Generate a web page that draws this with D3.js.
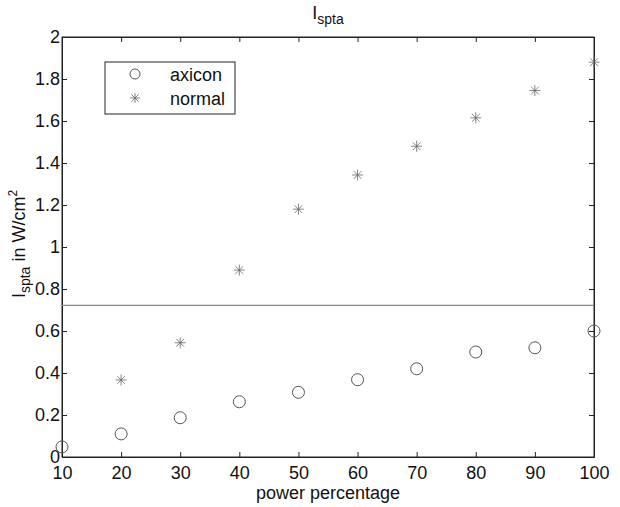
<!DOCTYPE html>
<html>
<head>
<meta charset="utf-8">
<script src="https://d3js.org/d3.v7.min.js"></script>
<style>
  body { margin: 0; background: white; }
  svg text { font-family: "Liberation Sans", Arial, sans-serif; fill: #111; }
</style>
</head>
<body>
<div id="chart"></div>
<script>
// data
var powers = [10, 20, 30, 40, 50, 60, 70, 80, 90, 100];
var axicon = [0.048, 0.11, 0.187, 0.263, 0.308, 0.368, 0.42, 0.50, 0.52, 0.60];
var normal = [null, 0.367, 0.544, 0.89, 1.18, 1.343, 1.48, 1.615, 1.745, 1.88];
var refLine = 0.722;
var xTicks = [10, 20, 30, 40, 50, 60, 70, 80, 90, 100];
var yTicks = [0, 0.2, 0.4, 0.6, 0.8, 1, 1.2, 1.4, 1.6, 1.8, 2];

var W = 620, H = 507;
var margin = { top: 37, right: 26, bottom: 50, left: 62 };
var width = W - margin.left - margin.right,
    height = H - margin.top - margin.bottom;

var x = d3.scaleLinear().domain([10, 100]).range([0, width]);
var y = d3.scaleLinear().domain([0, 2]).range([height, 0]);

var svg = d3.select("#chart").append("svg")
    .attr("width", W).attr("height", H);
var g = svg.append("g")
    .attr("transform", "translate(" + margin.left + "," + margin.top + ")");

var axisColor = "#222";
var tickLen = 5;
var fs = "18px";

// box
g.append("rect").attr("width", width).attr("height", height)
  .attr("fill", "none").attr("stroke", axisColor).attr("stroke-width", 1);

// bottom axis (ticks inward)
var xb = g.append("g").attr("transform", "translate(0," + height + ")")
  .call(d3.axisBottom(x).tickValues(xTicks).tickSizeInner(-tickLen).tickSizeOuter(0).tickPadding(9));
// top ticks
var xt = g.append("g")
  .call(d3.axisTop(x).tickValues(xTicks).tickSizeInner(-tickLen).tickSizeOuter(0).tickFormat(""));
// left axis
var yl = g.append("g")
  .call(d3.axisLeft(y).tickValues(yTicks).tickSizeInner(-tickLen).tickSizeOuter(0).tickPadding(2)
    .tickFormat(function (d) { return d3.format("")(+d.toFixed(1)); }));
// right ticks
var yr = g.append("g").attr("transform", "translate(" + width + ",0)")
  .call(d3.axisRight(y).tickValues(yTicks).tickSizeInner(-tickLen).tickSizeOuter(0).tickFormat(""));

[xb, xt, yl, yr].forEach(function (a) {
  a.select(".domain").attr("stroke", axisColor);
  a.selectAll(".tick line").attr("stroke", axisColor);
  a.selectAll("text").style("font-size", fs).attr("fill", "#111");
});
xb.selectAll("text").attr("dy", "0.71em");

// reference line
g.append("line")
  .attr("x1", 0).attr("x2", width)
  .attr("y1", y(refLine)).attr("y2", y(refLine))
  .attr("stroke", "#888").attr("stroke-width", 1.2);

// markers
var markColor = "#555";
var starColor = "#666";
function star(sel, r) {
  var p = "M" + (-r) + ",0L" + r + ",0M0," + (-r) + "L0," + r +
    "M" + (-r * 0.7) + "," + (-r * 0.7) + "L" + (r * 0.7) + "," + (r * 0.7) +
    "M" + (-r * 0.7) + "," + (r * 0.7) + "L" + (r * 0.7) + "," + (-r * 0.7);
  sel.append("path").attr("d", p).attr("stroke", starColor).attr("stroke-width", 0.8).attr("fill", "none");
}

var axData = powers.map(function (p, i) { return { p: p, v: axicon[i] }; });
var nmData = powers.map(function (p, i) { return { p: p, v: normal[i] }; })
  .filter(function (d) { return d.v !== null; });

g.selectAll(".ax").data(axData).enter().append("circle")
  .attr("class", "ax")
  .attr("cx", function (d) { return x(d.p); })
  .attr("cy", function (d) { return y(d.v); })
  .attr("r", 6)
  .attr("fill", "none").attr("stroke", markColor).attr("stroke-width", 1);

g.selectAll(".nm").data(nmData).enter().append("g")
  .attr("class", "nm")
  .attr("transform", function (d) { return "translate(" + x(d.p) + "," + y(d.v) + ")"; })
  .each(function () { star(d3.select(this), 5.5); });

// legend
var lg = svg.append("g").attr("transform", "translate(105,62)");
lg.append("rect").attr("width", 130).attr("height", 52)
  .attr("fill", "white").attr("stroke", axisColor).attr("stroke-width", 1);
lg.append("circle").attr("cx", 30).attr("cy", 12).attr("r", 5)
  .attr("fill", "none").attr("stroke", markColor);
lg.append("g").attr("transform", "translate(30,36)").call(function (s) { star(s, 5); });
lg.append("text").attr("x", 65).attr("y", 19).style("font-size", fs).text("axicon");
lg.append("text").attr("x", 65).attr("y", 43).style("font-size", fs).text("normal");

// title
var t = svg.append("text").attr("x", margin.left + width / 2).attr("y", 19)
  .attr("text-anchor", "middle").style("font-size", fs);
t.append("tspan").text("I");
t.append("tspan").attr("dy", 5).style("font-size", "14px").text("spta");

// x label
svg.append("text").attr("x", margin.left + width / 2).attr("y", 499)
  .attr("text-anchor", "middle").style("font-size", fs).text("power percentage");

// y label
var yt = svg.append("text")
  .attr("transform", "translate(25," + (margin.top + height / 2 - 3) + ") rotate(-90)")
  .attr("text-anchor", "middle").style("font-size", fs);
yt.append("tspan").text("I");
yt.append("tspan").attr("dy", 5).style("font-size", "14px").text("spta");
yt.append("tspan").attr("dy", -5).text(" in W/cm");
yt.append("tspan").attr("dy", -8).style("font-size", "12px").text("2");
</script>
</body>
</html>
